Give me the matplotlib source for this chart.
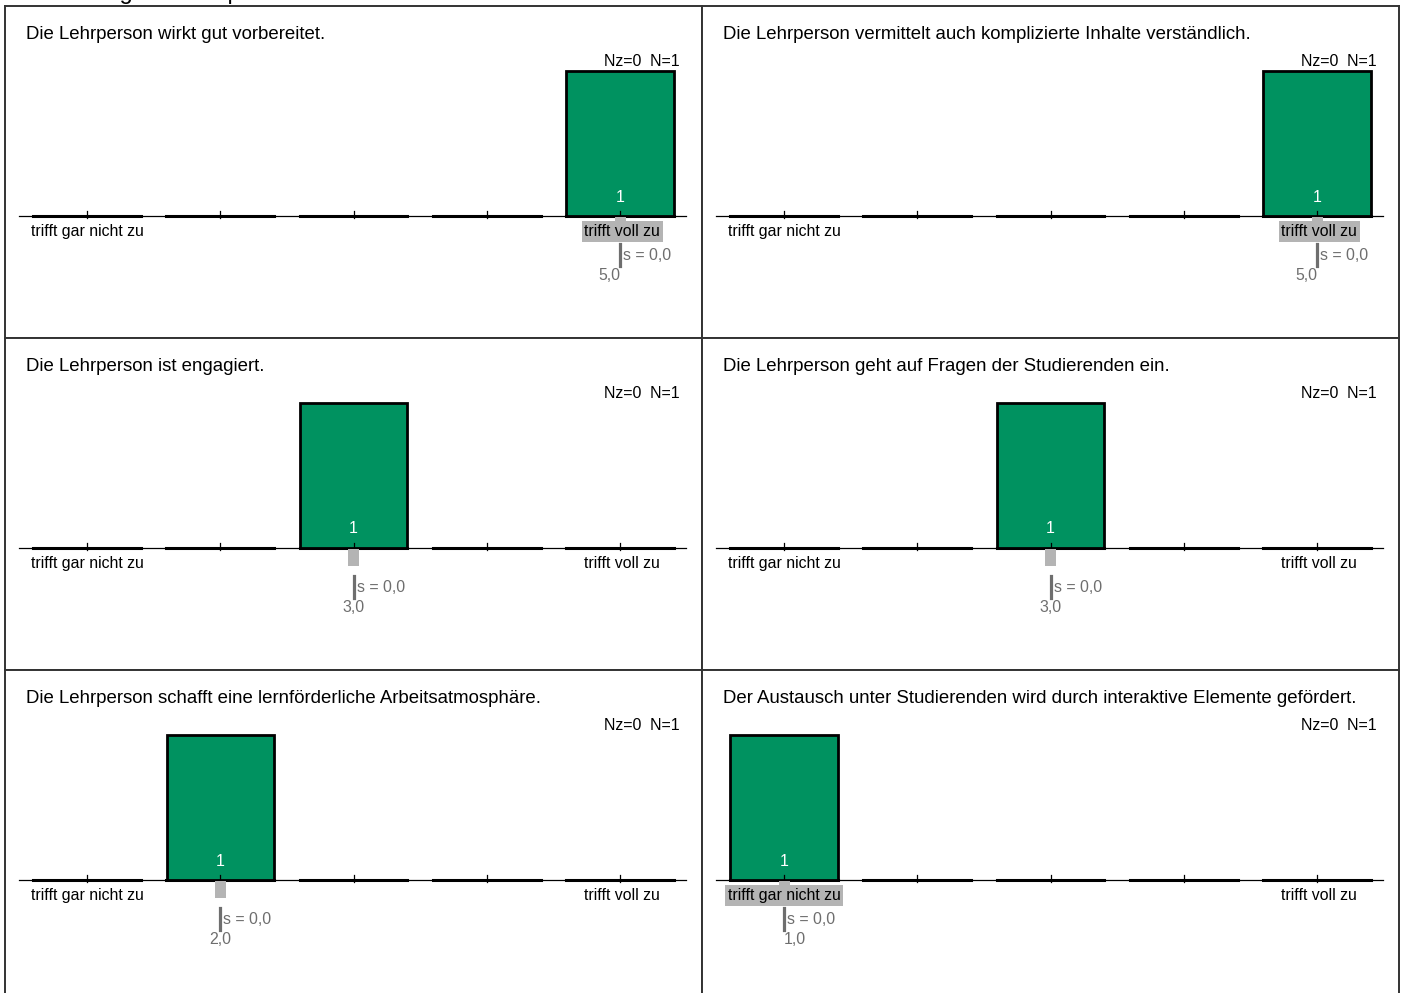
import matplotlib.pyplot as plt
from matplotlib.patches import Rectangle

plt.rcParams['font.family'] = ['Liberation Sans', 'DejaVu Sans']

questions = [
    "Die Lehrperson wirkt gut vorbereitet.",
    "Die Lehrperson vermittelt auch komplizierte Inhalte verständlich.",
    "Die Lehrperson ist engagiert.",
    "Die Lehrperson geht auf Fragen der Studierenden ein.",
    "Die Lehrperson schafft eine lernförderliche Arbeitsatmosphäre.",
    "Der Austausch unter Studierenden wird durch interaktive Elemente gefördert.",
]
categories = [1, 2, 3, 4, 5]
counts = [
    [0, 0, 0, 0, 1],
    [0, 0, 0, 0, 1],
    [0, 0, 1, 0, 0],
    [0, 0, 1, 0, 0],
    [0, 1, 0, 0, 0],
    [1, 0, 0, 0, 0],
]
means = [5.0, 5.0, 3.0, 3.0, 2.0, 1.0]
sds = [0.0, 0.0, 0.0, 0.0, 0.0, 0.0]
nz = [0, 0, 0, 0, 0, 0]
n_total = [1, 1, 1, 1, 1, 1]
left_label = "trifft gar nicht zu"
right_label = "trifft voll zu"

GREEN = '#009260'
LGRAY = '#b4b4b4'
DGRAY = '#6e6e6e'
FS = 11.4

W, H = 1404, 993
fig = plt.figure(figsize=(W / 100, H / 100), dpi=100)

# abgeschnittene Überschrift oben (wie im Original nur die Unterlängen sichtbar)
fig.text(8 / W, 1 + 0.6 / H, "Auswertung der Lehrperson", fontsize=17, va='baseline', ha='left')

cell_w, cell_h = 697, 332
px = 133.25  # Pixel pro Kategorie
xlo = 1 - 82 / px
xhi = xlo + cell_w / px
ypx = 145.0
ylo = -(cell_h - 210) / ypx
yhi = 210 / ypx


def fx(p):
    return p / cell_w


def fy(p):
    return 1 - p / cell_h


for i, q in enumerate(questions):
    r, c = divmod(i, 2)
    left = (5 + c * cell_w) / W
    top = 6 + r * cell_h
    ax = fig.add_axes([left, 1 - (top + cell_h) / H, cell_w / W, cell_h / H])
    ax.set_xlim(xlo, xhi)
    ax.set_ylim(ylo, yhi)
    ax.set_xticks([])
    ax.set_yticks([])
    for sp in ax.spines.values():
        sp.set_linewidth(1.4)
        sp.set_color('#333333')

    # Grundlinie + dicke Segmente + Ticks
    ax.plot([xlo + 14 / px, xlo + 681 / px], [0, 0], color='black', lw=0.9, zorder=1)
    for k in categories:
        ax.plot([k - 0.405, k + 0.405], [0, 0], color='black', lw=2.2, zorder=1)
        ax.plot([k, k], [-2 / ypx, 5 / ypx], color='black', lw=0.9, zorder=4)

    ax.bar(categories, counts[i], width=0.805, bottom=0, color=GREEN,
           edgecolor='black', linewidth=2, zorder=2)
    for k, v in zip(categories, counts[i]):
        if v > 0:
            ax.text(k, 19 / ypx, str(v), color='white', fontsize=FS,
                    ha='center', va='center', zorder=5)

    m = means[i]
    # Mittelwert-Marker unter der Grundlinie
    ax.add_patch(Rectangle((m - 5.5 / px, -18 / ypx), 11 / px, 17 / ypx,
                           facecolor=LGRAY, edgecolor='none', zorder=5))

    lb = dict(facecolor=LGRAY, edgecolor='none', pad=1.8) if m == 1 else None
    rb = dict(facecolor=LGRAY, edgecolor='none', pad=1.8) if m == 5 else None
    ax.text(fx(26), fy(225.5), left_label, transform=ax.transAxes, fontsize=FS,
            ha='left', va='center', bbox=lb, zorder=6)
    ax.text(fx(655), fy(225.5), right_label, transform=ax.transAxes, fontsize=FS,
            ha='right', va='center', bbox=rb, zorder=6)

    # Standardabweichung
    ax.plot([m, m], [-28 / ypx, -50 / ypx], color=DGRAY, lw=2.3, zorder=3)
    ax.text(m + 3 / px, -40 / ypx, "s = " + f"{sds[i]:.1f}".replace('.', ','),
            color=DGRAY, fontsize=FS, ha='left', va='center')
    ha = 'right' if m == 5 else ('left' if m == 1 else 'center')
    ax.text(m, -60 / ypx, f"{m:.1f}".replace('.', ','), color=DGRAY,
            fontsize=FS, ha=ha, va='center')

    ax.text(fx(21), fy(28.5), q, transform=ax.transAxes, fontsize=13.4,
            ha='left', va='center')
    ax.text(fx(675), fy(55.5), f"Nz={nz[i]}  N={n_total[i]}", transform=ax.transAxes,
            fontsize=FS, ha='right', va='center')

fig.savefig('out.png', dpi=100)
